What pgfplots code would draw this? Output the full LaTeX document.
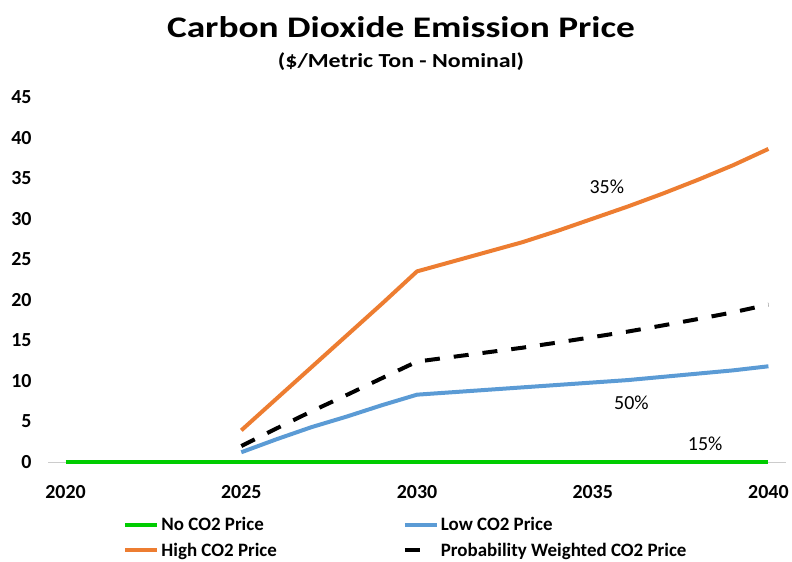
\documentclass[border=0pt]{standalone}
\usepackage{fontspec}
\setmainfont{Carlito}
\usepackage{pgfplots}
\pgfplotsset{compat=1.18}
\definecolor{nogreen}{HTML}{00CC00}
\definecolor{lowblue}{HTML}{5B9BD5}
\definecolor{highorange}{HTML}{ED7D31}
\pgfplotsset{
  shortdash legend/.style={legend image code/.code={\draw[##1, dash pattern=on 15bp off 30bp] (0bp,0bp) -- (32bp,0bp);}},
}

\begin{document}
\begin{tikzpicture}
\useasboundingbox (-48bp,-100bp) rectangle (744bp,462bp);
\begin{axis}[
at={(0,0)}, anchor=south west,
scale only axis,
width=738bp, height=365bp,
xmin=2019.5, xmax=2040.5,
ymin=0, ymax=45,
xtick={2020,2025,2030,2035,2040},
ytick={0,5,10,15,20,25,30,35,40,45},
axis x line*=bottom, axis y line*=left,
y axis line style={draw=none},
x axis line style={draw=black!20, line width=0.8pt},
major tick length=0pt,
tick label style={font=\fontsize{20}{24}\selectfont\bfseries},
/pgf/number format/assume math mode=true,
xticklabel style={/pgf/number format/1000 sep={}, yshift=-20bp},
yticklabel style={xshift=-13bp},
clip=false,
legend columns=2,
legend cell align=left,
legend style={at={(0.102,-0.145)}, anchor=north west, draw=none, fill=none,
  inner sep=0pt, font=\fontsize{19}{22}\selectfont\bfseries,
  /tikz/every even column/.append style={column sep=124bp},
  row sep=7bp},
legend image code/.code={\draw[#1] (0bp,0bp) -- (32bp,0bp);},
]
\addplot[nogreen, line width=4bp] coordinates {
(2020,0) (2021,0) (2022,0) (2023,0) (2024,0) (2025,0) (2026,0) (2027,0) (2028,0) (2029,0) (2030,0)
(2031,0) (2032,0) (2033,0) (2034,0) (2035,0) (2036,0) (2037,0) (2038,0) (2039,0) (2040,0)};
\addlegendentry{No CO2 Price}
\addplot[lowblue, line width=4bp] coordinates {
(2025,1.2) (2026,2.8) (2027,4.3) (2028,5.6) (2029,7.0) (2030,8.3)
(2031,8.6) (2032,8.9) (2033,9.2) (2034,9.5) (2035,9.8) (2036,10.1) (2037,10.5) (2038,10.9) (2039,11.3) (2040,11.8)};
\addlegendentry{Low CO2 Price}
\addplot[highorange, line width=4bp] coordinates {
(2025,3.9) (2026,7.8) (2027,11.7) (2028,15.6) (2029,19.5) (2030,23.5)
(2031,24.7) (2032,25.9) (2033,27.1) (2034,28.5) (2035,30.0) (2036,31.5) (2037,33.1) (2038,34.8) (2039,36.6) (2040,38.6)};
\addlegendentry{High CO2 Price}
\addplot[black, line width=4bp, dash pattern=on 15bp off 14bp, shortdash legend] coordinates {
(2025,1.97) (2026,4.13) (2027,6.25) (2028,8.26) (2029,10.33) (2030,12.38)
(2031,12.95) (2032,13.52) (2033,14.09) (2034,14.73) (2035,15.40) (2036,16.08) (2037,16.84) (2038,17.63) (2039,18.46) (2040,19.41)};
\addlegendentry{Probability Weighted CO2 Price}
\node[font=\fontsize{20}{24}\selectfont] at (axis cs:2035.4,33.9) {35\%};
\node[font=\fontsize{20}{24}\selectfont] at (axis cs:2036.1,7.3) {50\%};
\node[font=\fontsize{20}{24}\selectfont] at (axis cs:2038.2,2.2) {15\%};
\end{axis}
\node[font=\fontsize{30}{36}\selectfont\bfseries, xscale=1.25] at (353bp,435bp) {Carbon Dioxide Emission Price};
\node[font=\fontsize{20}{24}\selectfont\bfseries, xscale=1.2] at (353bp,400bp) {(\$/Metric Ton - Nominal)};
\end{tikzpicture}
\end{document}
